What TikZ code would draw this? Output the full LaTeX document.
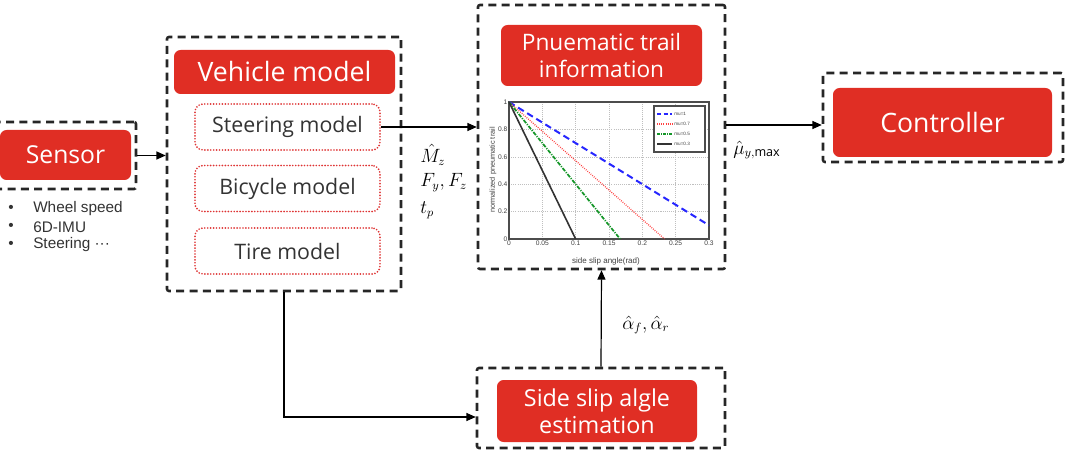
\documentclass[tikz,border=0pt]{standalone}
\usepackage{fontspec}
\setmainfont{Open Sans}
\newfontfamily\arialfont{Liberation Sans}
\usetikzlibrary{arrows.meta}
\definecolor{boxred}{RGB}{224,46,36}
\definecolor{dotred}{RGB}{222,52,52}
\definecolor{plotgreen}{RGB}{20,150,40}
\begin{document}
\begin{tikzpicture}[x=0.75pt,y=-0.75pt,
  frame/.style={draw=black!85, line width=1.9pt, dash pattern=on 6pt off 4pt, rounded corners=1.5pt, inner sep=0pt},
  titlebox/.style={fill=boxred, rounded corners=5pt, text=white, align=center, inner sep=0pt},
  subbox/.style={draw=dotred, line width=1.4pt, dash pattern=on 0pt off 2.2pt, line cap=round, rounded corners=6pt, inner sep=0pt, text=black!80, font=\fontsize{16}{19}\selectfont},
  conn/.style={-{Triangle[length=7pt,width=6pt]}, line width=0.9pt},
  mlabel/.style={anchor=west, inner sep=0pt, font=\fontsize{13.5}{16}\selectfont},
  bullet/.style={anchor=west, inner sep=0pt, font=\arialfont\fontsize{11.5}{13}\selectfont, text=black!80},
  tick/.style={inner sep=1pt, font=\arialfont\fontsize{5}{6}\selectfont, text=black!75},
  leg/.style={anchor=west, inner sep=0pt, font=\arialfont\fontsize{3.5}{4}\selectfont, text=black!75}]
\useasboundingbox (0,0) rectangle (1068,456);

% ---- Sensor
\node[frame, minimum width=109.5pt, minimum height=50.25pt] (sensorbox) at (63,155.5) {};
\node[titlebox, minimum width=98.25pt, minimum height=37.5pt, font=\fontsize{18.5}{22}\selectfont] (sensor) at (65.5,155) {Sensor};
\node[bullet] (b1) at (8,209) {\textbullet};
\node[bullet] (b2) at (8,227) {\textbullet};
\node[bullet] (b3) at (8,245) {\textbullet};
\node[bullet] (s1) at (33,209) {Wheel speed};
\node[bullet] (s2) at (33,227) {6D-IMU};
\node[bullet] (s3) at (33,245) {Steering ···};

% ---- Vehicle model
\node[frame, minimum width=175.5pt, minimum height=190.5pt] (veh) at (284,164) {};
\node[titlebox, minimum width=165.75pt, minimum height=33pt, font=\fontsize{20}{24}\selectfont] (vehtitle) at (284.5,72) {Vehicle model};
\node[subbox, minimum width=138.75pt, minimum height=34.5pt] (steer) at (287.5,127) {Steering model};
\node[subbox, minimum width=138.75pt, minimum height=34.5pt] (bike) at (287.5,188.5) {Bicycle model};
\node[subbox, minimum width=138.75pt, minimum height=34.5pt] (tire) at (287.5,251) {Tire model};

% ---- Pneumatic trail
\node[frame, minimum width=185.25pt, minimum height=198pt] (pt) at (601.5,137) {};
\node[titlebox, minimum width=150.75pt, minimum height=45.75pt, font=\fontsize{17}{20}\selectfont] (pttitle) at (601.5,55.5) {Pnuematic trail\\information};

% plot of normalized trail versus slip angle
\begin{scope}[shift={(509,239)}, xscale=666.67, yscale=-137]
  \foreach \gx in {0.05,0.1,0.15,0.2,0.25}
    \draw[black!25, line width=0.3pt, dash pattern=on 0.8pt off 0.8pt] (\gx,0) -- (\gx,1);
  \foreach \gy in {0.2,0.4,0.6,0.8}
    \draw[black!25, line width=0.3pt, dash pattern=on 0.8pt off 0.8pt] (0,\gy) -- (0.3,\gy);
  \draw[black!70, line width=0.9pt] (0,0) rectangle (0.3,1);
  \foreach \gx/\lab in {0/0,0.05/0.05,0.1/0.1,0.15/0.15,0.2/0.2,0.25/0.25,0.3/0.3}
    \node[tick, below] at (\gx,0) {\lab};
  \foreach \gy/\lab in {0/0,0.2/0.2,0.4/0.4,0.6/0.6,0.8/0.8,1/1}
    \node[tick, left] at (0,\gy) {\lab};
  \draw[blue!85, line width=1.5pt, dash pattern=on 5pt off 3pt] (0,1) -- (0.3,0.1);
  \draw[red!75, line width=1pt, dash pattern=on 0.6pt off 1pt] (0,1) -- (0.2333,0);
  \draw[plotgreen, line width=1.3pt, dash pattern=on 3pt off 1pt on 0.8pt off 1pt] (0,1) -- (0.1667,0);
  \draw[black!80, line width=1.2pt] (0,1) -- (0.1,0);
\end{scope}
\node[tick, font=\arialfont\fontsize{6}{7}\selectfont] (xl) at (606,261) {side slip angle(rad)};
\node[tick, rotate=90, font=\arialfont\fontsize{5.5}{6}\selectfont] (yl) at (493,170) {normalized pneumatic trail};
% legend
\draw[black!70, line width=1pt, fill=white] (654,106) rectangle (705,152);
\draw[blue!85, line width=1.3pt, dash pattern=on 3pt off 2pt] (657,114) -- (672,114);
\draw[red!75, line width=1pt, dash pattern=on 0.6pt off 1pt] (657,124) -- (672,124);
\draw[plotgreen, line width=1.2pt, dash pattern=on 2pt off 1pt on 0.6pt off 1pt] (657,134) -- (672,134);
\draw[black!80, line width=1.1pt] (657,144) -- (672,144);
\node[leg] (l1) at (674,114) {mu=1};
\node[leg] (l2) at (674,124) {mu=0.7};
\node[leg] (l3) at (674,134) {mu=0.5};
\node[leg] (l4) at (674,144) {mu=0.3};

% ---- Controller
\node[frame, minimum width=180pt, minimum height=66.75pt] (ctrlbox) at (943,117.5) {};
\node[titlebox, minimum width=164.25pt, minimum height=51.75pt, font=\fontsize{20}{24}\selectfont] (ctrl) at (942.5,122.5) {Controller};

% ---- Side slip angle estimation
\node[frame, minimum width=186pt, minimum height=60pt] (ssbox) at (601,408) {};
\node[titlebox, minimum width=150pt, minimum height=46.5pt, font=\fontsize{17.5}{20.5}\selectfont] (ss) at (597,411) {Side slip algle\\estimation};

% ---- signal labels
\node[mlabel] (mz) at (420,155) {$\hat{M}_z$};
\node[mlabel] (fyz) at (420,183) {$F_y, F_z$};
\node[mlabel] (tp) at (420,210) {$t_p$};
\node[mlabel] (mu) at (733,150) {$\hat{\mu}_{y,\max}$};
\node[mlabel] (al) at (622,325) {$\hat{\alpha}_f, \hat{\alpha}_r$};

% ---- connectors
\coordinate (ctrly) at (0,125);
\coordinate (ssy) at (0,417);
\draw[conn] (sensorbox.east) -- (sensorbox.east -| veh.west);
\draw[conn] (steer.east) -- (steer.east -| pt.west);
\draw[conn] (pt.east |- ctrly) -- (ctrlbox.west |- ctrly);
\draw[conn] (veh.south) |- (ssbox.west |- ssy);
\draw[conn] (ssbox.north) -- (pt.south);
\end{tikzpicture}
\end{document}
